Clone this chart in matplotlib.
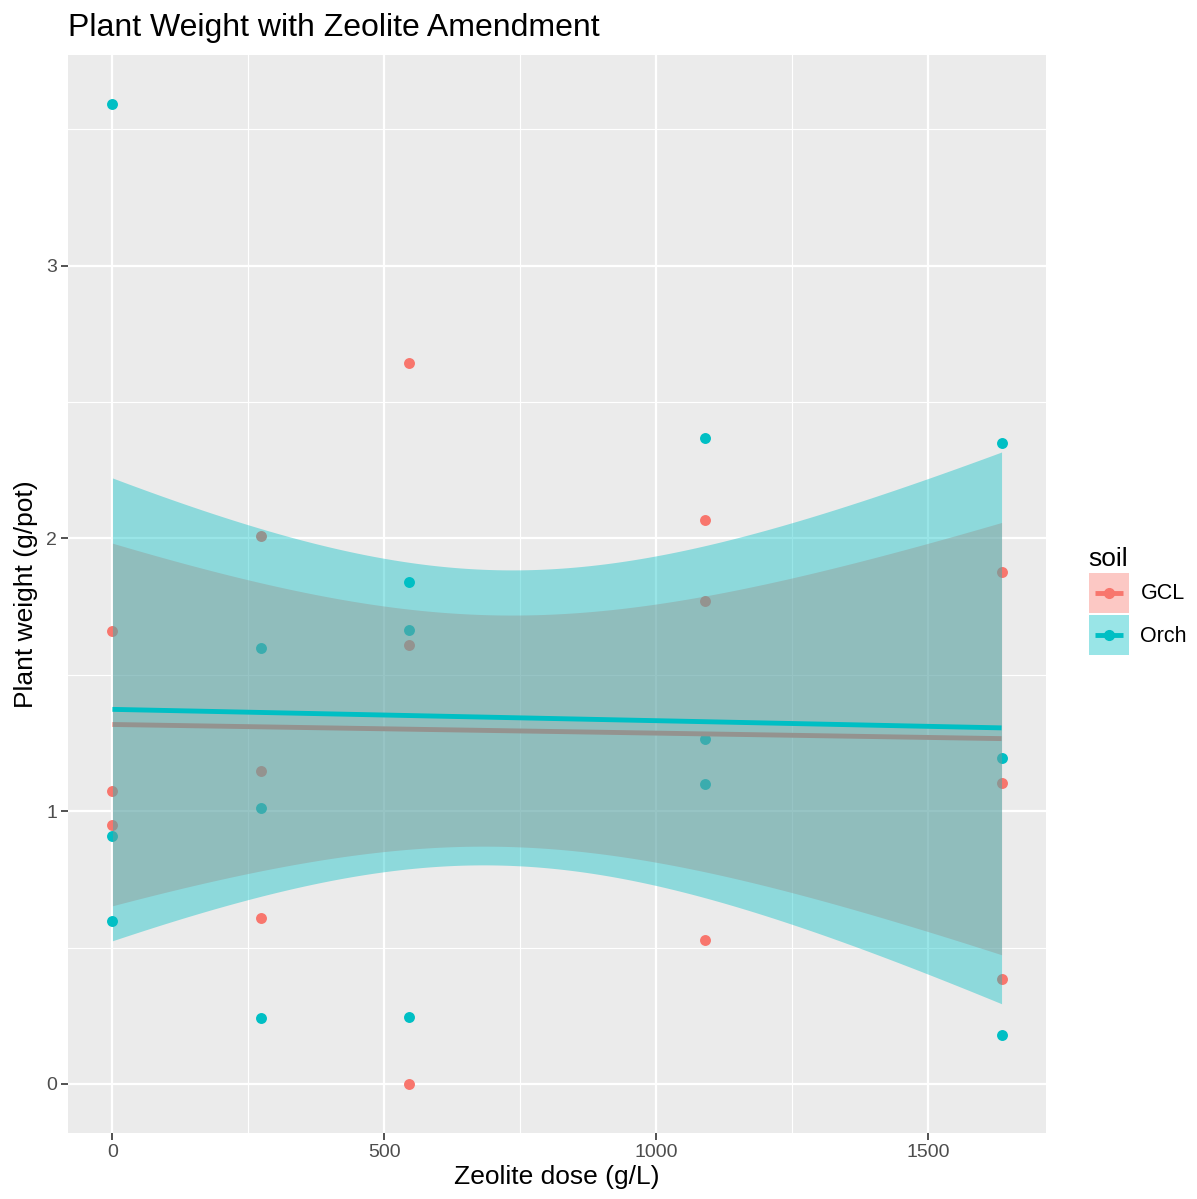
import numpy as np
import matplotlib
matplotlib.use("Agg")
import matplotlib.pyplot as plt
from matplotlib.patches import Rectangle
from matplotlib.lines import Line2D

plt.rcParams['font.family'] = ['Liberation Sans', 'DejaVu Sans']

doses = [0, 272.5, 545, 1090, 1635]
soils = ["GCL", "Orch"]
colors = {"GCL": "#F8766D", "Orch": "#00BFC4"}

# three pots per dose and soil
gcl_weight = [[1.661, 1.076, 0.948],
              [2.008, 1.149, 0.607],
              [2.645, 1.610, 0.000],
              [2.067, 1.771, 0.527],
              [1.877, 1.105, 0.384]]
orch_weight = [[3.593, 0.911, 0.596],
               [1.600, 1.013, 0.241],
               [1.840, 1.665, 0.245],
               [2.367, 1.266, 1.101],
               [2.349, 1.196, 0.179]]
weights = {"GCL": gcl_weight, "Orch": orch_weight}


class LegendKey:
    def __init__(self, color):
        self.color = color


class KeyHandler:
    # ggplot-like key: filled square with a line and a point in the middle
    def legend_artist(self, legend, orig_handle, fontsize, handlebox):
        x0, y0 = -handlebox.xdescent, -handlebox.ydescent
        w, h = handlebox.width, handlebox.height
        c = orig_handle.color
        rect = Rectangle((x0, y0), w, h, facecolor=c, alpha=0.4,
                         edgecolor="none", transform=handlebox.get_transform())
        line = Line2D([x0 + 0.15*w, x0 + 0.85*w], [y0 + h/2]*2, color=c, lw=3.5,
                      solid_capstyle="butt", transform=handlebox.get_transform())
        dot = Line2D([x0 + w/2], [y0 + h/2], marker="o", ms=7, color=c,
                     linestyle="none", transform=handlebox.get_transform())
        handlebox.add_artist(rect)
        handlebox.add_artist(line)
        handlebox.add_artist(dot)
        return rect


fig = plt.figure(figsize=(11.97, 11.99), dpi=100)
ax = fig.add_axes([68/1197, 1 - 1133/1199, (1046-68)/1197, (1133-55)/1199])
ax.set_facecolor("#EBEBEB")
for s in ax.spines.values():
    s.set_visible(False)

# points first
for soil in soils:
    xs = np.repeat(doses, 3)
    ys = np.array(weights[soil]).ravel()
    ax.scatter(xs, ys, s=62, color=colors[soil], zorder=3, linewidths=0)

# lm smooth with 95% band (t, df = 13)
t_crit = 2.160
xg = np.linspace(min(doses), max(doses), 200)
for soil in soils:
    xs = np.repeat(doses, 3).astype(float)
    ys = np.array(weights[soil]).ravel()
    b, a = np.polyfit(xs, ys, 1)
    res = ys - (a + b * xs)
    n = len(xs)
    sig = np.sqrt(np.sum(res**2) / (n - 2))
    sxx = np.sum((xs - xs.mean())**2)
    se = sig * np.sqrt(1/n + (xg - xs.mean())**2 / sxx)
    fit = a + b * xg
    ax.fill_between(xg, fit - t_crit*se, fit + t_crit*se, color=colors[soil],
                    alpha=0.4, linewidth=0, zorder=4)
    ax.plot(xg, fit, color=colors[soil], lw=3.5, zorder=4, solid_capstyle="butt")

span = max(doses) - min(doses)
ax.set_xlim(min(doses) - 0.05*span, max(doses) + 0.05*span)
ymax = 3.593
ax.set_ylim(-0.05*ymax, ymax*1.05)

ax.set_xticks([0, 500, 1000, 1500])
ax.set_xticks([250, 750, 1250], minor=True)
ax.set_yticks([0, 1, 2, 3])
ax.set_yticks([0.5, 1.5, 2.5, 3.5], minor=True)
ax.grid(which="major", color="white", lw=1.6, zorder=0)
ax.grid(which="minor", color="white", lw=0.8, zorder=0)
ax.set_axisbelow(True)
ax.tick_params(which="major", length=5, width=1.2, color="#333333",
               labelsize=14, labelcolor="#4D4D4D", pad=3)
ax.tick_params(which="minor", length=0)

ax.set_xlabel("Zeolite dose (g/L)", fontsize=19, labelpad=3)
ax.set_ylabel("Plant weight (g/pot)", fontsize=19, labelpad=6)
fig.text(68/1197, 1 - 36/1199, "Plant Weight with Zeolite Amendment",
         fontsize=23, va="baseline", ha="left")

handles = [LegendKey(colors[s]) for s in soils]
leg = fig.legend(handles, soils, title="soil", loc="upper left",
                 bbox_to_anchor=(1078/1197, 1 - 536/1199), frameon=False,
                 fontsize=15.5, title_fontsize=19, handlelength=1.85,
                 handleheight=2.48, handletextpad=0.55, labelspacing=0.1,
                 borderpad=0, alignment="left",
                 handler_map={LegendKey: KeyHandler()})

fig.savefig("out.png", dpi=100)
